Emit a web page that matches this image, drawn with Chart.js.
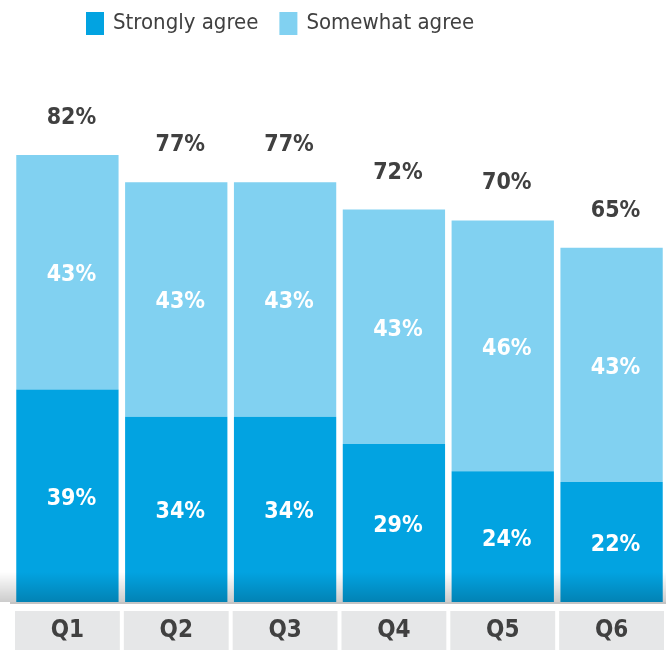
<!DOCTYPE html>
<html>
<head>
<meta charset="utf-8">
<style>
  html, body { margin: 0; padding: 0; background: #ffffff; }
  #wrap { position: relative; width: 666px; height: 650px; }
</style>
</head>
<body>
<div id="wrap"><canvas id="chart"></canvas></div>
<script src="https://cdn.jsdelivr.net/npm/chart.js@4.4.1/dist/chart.umd.min.js"></script>
<script>
  const categories = ['Q1', 'Q2', 'Q3', 'Q4', 'Q5', 'Q6'];
  const stronglyAgree = [39, 34, 34, 29, 24, 22];
  const somewhatAgree = [43, 43, 43, 43, 46, 43];
  const seriesNames = ['Strongly agree', 'Somewhat agree'];

  const DARK = '#02a3e1';
  const LIGHT = '#81d1f1';
  const TEXT = '#404040';
  const FONT = "'DejaVu Sans Condensed', 'DejaVu Sans', sans-serif";

  // gray boxes + category names under the bars
  const categoryBoxes = {
    id: 'categoryBoxes',
    afterDraw(chart) {
      const {ctx, chartArea} = chart;
      const x = chart.scales.x;
      const w = (x.getPixelForValue(1) - x.getPixelForValue(0)) - 4;
      ctx.save();
      ctx.textAlign = 'center';
      ctx.textBaseline = 'middle';
      ctx.font = 'bold 24px ' + FONT;
      chart.data.labels.forEach((c, i) => {
        const cx = x.getPixelForValue(i);
        ctx.fillStyle = '#e6e7e8';
        ctx.fillRect(cx - w / 2, chartArea.bottom + 9, w, 39);
        ctx.fillStyle = TEXT;
        ctx.fillText(c, cx, chartArea.bottom + 29);
      });
      ctx.restore();
    }
  };

  // darker fade at the foot of the bars, axis line and value labels
  const barDecor = {
    id: 'barDecor',
    afterDatasetsDraw(chart) {
      const {ctx, chartArea} = chart;
      const bottom = chartArea.bottom;
      ctx.save();
      const g = ctx.createLinearGradient(0, bottom - 30, 0, bottom);
      g.addColorStop(0, 'rgba(0,0,0,0)');
      g.addColorStop(1, 'rgba(0,0,0,0.2)');
      ctx.fillStyle = g;
      ctx.fillRect(0, bottom - 30, chart.width, 30);

      ctx.fillStyle = '#c4c4c4';
      ctx.fillRect(10, bottom, chart.width - 10, 2);

      ctx.textAlign = 'center';
      ctx.textBaseline = 'middle';
      ctx.font = 'bold 23px ' + FONT;
      ctx.fillStyle = '#ffffff';
      chart.data.datasets.forEach((ds, di) => {
        chart.getDatasetMeta(di).data.forEach((bar, i) => {
          const mid = (bar.y + bar.base) / 2;
          ctx.fillText(ds.data[i] + '%', bar.x + 4, mid + 3);
        });
      });

      ctx.fillStyle = TEXT;
      chart.getDatasetMeta(1).data.forEach((bar, i) => {
        const total = stronglyAgree[i] + somewhatAgree[i];
        ctx.fillText(total + '%', bar.x + 4, bar.y - 37);
      });
      ctx.restore();
    }
  };

  // legend drawn from the datasets
  const topLegend = {
    id: 'topLegend',
    afterDraw(chart) {
      const {ctx} = chart;
      ctx.save();
      ctx.font = '22px ' + FONT;
      ctx.textBaseline = 'middle';
      ctx.textAlign = 'left';
      let x = 86;
      chart.data.datasets.forEach((ds) => {
        ctx.fillStyle = ds.backgroundColor;
        ctx.fillRect(x, 12, 18, 23);
        ctx.fillStyle = TEXT;
        ctx.fillText(ds.label, x + 27, 23);
        x += 27 + ctx.measureText(ds.label).width + 21;
      });
      ctx.restore();
    }
  };

  new Chart(document.getElementById('chart'), {
    type: 'bar',
    data: {
      labels: categories,
      datasets: [
        {label: seriesNames[0], data: stronglyAgree, backgroundColor: DARK},
        {label: seriesNames[1], data: somewhatAgree, backgroundColor: LIGHT}
      ]
    },
    options: {
      responsive: true,
      maintainAspectRatio: false,
      animation: false,
      layout: {padding: {top: 57, left: 13, right: 0, bottom: 48}},
      datasets: {
        bar: {barPercentage: 0.94, categoryPercentage: 1.0, borderWidth: 0}
      },
      plugins: {
        legend: {display: false},
        tooltip: {enabled: false}
      },
      scales: {
        x: {
          stacked: true,
          display: false
        },
        y: {
          stacked: true,
          display: false,
          min: 0,
          max: 100
        }
      }
    },
    plugins: [categoryBoxes, barDecor, topLegend]
  });
</script>
</body>
</html>
